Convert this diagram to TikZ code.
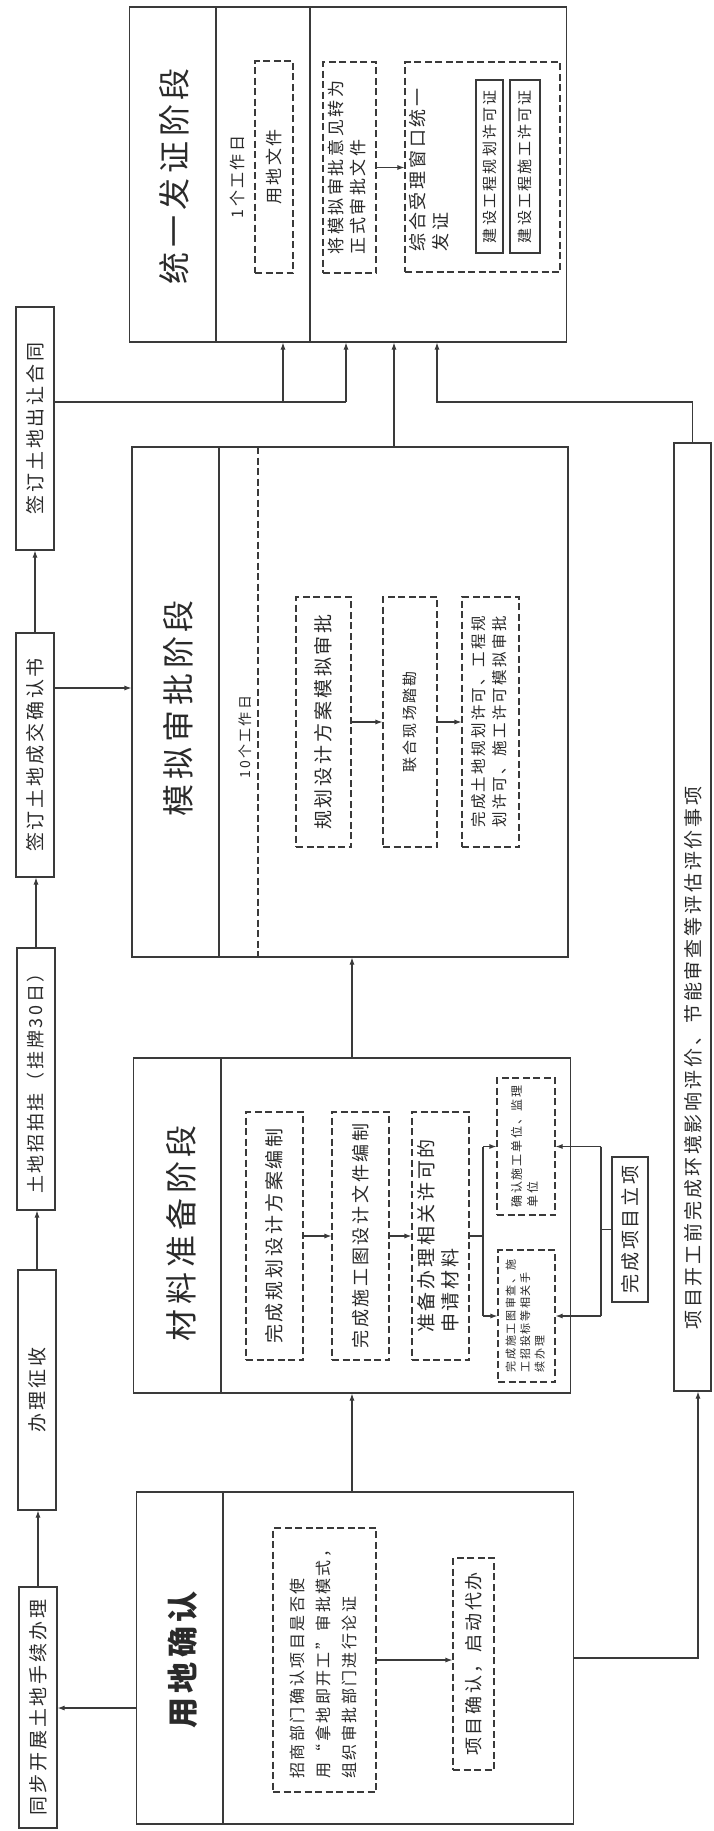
\documentclass[tikz,border=0pt]{standalone}
\usepackage{fontspec}
\setmainfont{Noto Sans CJK SC}[LetterSpace=15]
\usetikzlibrary{arrows.meta}
\newcommand{\R}[1]{\rotatebox{90}{#1}}
\newcommand{\ML}[1]{\rotatebox{90}{\begin{tabular}{@{}l@{}}#1\end{tabular}}}
\definecolor{ln}{HTML}{3A3A3A}
\definecolor{tx}{HTML}{2A2A2A}
\begin{document}
\begin{tikzpicture}[x=1pt,y=-1pt,
 line/.style={draw=ln,line width=1.1pt},
 arr/.style={line,-{Latex[length=7pt,width=5pt]}},
 sbox/.style={draw=ln,line width=1.1pt,rectangle,inner sep=0pt,text=tx},
 dbox/.style={sbox,dash pattern=on 7pt off 3.5pt},
 lbl/.style={inner sep=0pt,text=tx},
 fs/.style 2 args={font=\fontsize{#1}{#2}\selectfont}
]
\fill[white] (0,0) rectangle (714,1831);
\useasboundingbox (0,0) rectangle (714,1831);

% ---------- left chain ----------
\node[sbox,minimum width=38pt,minimum height=243pt,fs={19}{24}] (churang) at (35,428.5) {\R{签订土地出让合同}};
\node[sbox,minimum width=38pt,minimum height=244pt,fs={19}{24}] (chengjiao) at (35,755) {\R{签订土地成交确认书}};
\node[sbox,minimum width=38pt,minimum height=262pt,fs={18}{23}] (zhaopai) at (36,1079) {\R{土地招拍挂（挂牌30日）}};
\node[sbox,minimum width=38pt,minimum height=240pt,fs={19}{24}] (zhengshou) at (37,1390) {\R{办理征收}};
\node[sbox,minimum width=38pt,minimum height=241pt,fs={19}{24}] (tongbu) at (38,1707.5) {\R{同步开展土地手续办理}};

% ---------- stage boxes ----------
\node[sbox,minimum width=437pt,minimum height=335pt] (tongyi) at (348,174.5) {};
\node[sbox,minimum width=436pt,minimum height=510pt] (moni) at (350,702) {};
\node[sbox,minimum width=437pt,minimum height=335pt] (cailiao) at (352,1225.5) {};
\node[sbox,minimum width=437pt,minimum height=332pt] (yongdi) at (355,1658) {};

% dividers
\draw[line] (216,7) -- (216,342);
\draw[line] (310,7) -- (310,342);
\draw[line] (219,447) -- (219,957);
\draw[line,dash pattern=on 7pt off 3.5pt] (258,447) -- (258,957);
\draw[line] (221,1058) -- (221,1393);
\draw[line] (223,1492) -- (223,1824);

% titles
\node[lbl,fs={32}{38}] (t1) at (174,176) {\R{统一发证阶段}};
\node[lbl,fs={32}{38}] (t2) at (178,708) {\R{模拟审批阶段}};
\node[lbl,fs={32}{38}] (t3) at (181,1233) {\R{材料准备阶段}};
\node[lbl,font=\fontsize{31}{38}\selectfont\bfseries] (t4) at (183,1660) {\R{用地确认}};

% ---------- inside 统一发证 ----------
\node[lbl,fs={16}{20}] (d1) at (237,177) {\R{1个工作日}};
\node[dbox,minimum width=38pt,minimum height=212pt,fs={17}{21}] (ydwj) at (274,167) {\R{用地文件}};
\node[dbox,minimum width=53pt,minimum height=211pt,fs={17}{22}] (jiang) at (349.5,167.5) {\ML{将模拟审批意见转为\\正式审批文件}};
\node[dbox,minimum width=155pt,minimum height=210pt] (zonghe) at (482.5,167) {};
\node[lbl,fs={18}{23}] (zhtxt) at (431,170) {\ML{综合受理窗口统一\\发证}};
\node[sbox,minimum width=27pt,minimum height=173pt,fs={15}{19}] (cert1) at (489.5,166.5) {\R{建设工程规划许可证}};
\node[sbox,minimum width=30pt,minimum height=173pt,fs={15}{19}] (cert2) at (525,166.5) {\R{建设工程施工许可证}};
\draw[arr] (jiang.east) -- (jiang.east -| zonghe.west);

% ---------- inside 模拟审批 ----------
\node[lbl,fs={14}{18}] (d2) at (245,737) {\R{10个工作日}};
\node[dbox,minimum width=55pt,minimum height=250pt,fs={19}{24}] (guihua) at (323.5,722) {\R{规划设计方案模拟审批}};
\node[dbox,minimum width=54pt,minimum height=250pt,fs={15}{20}] (lianhe) at (410,722) {\R{联合现场踏勘}};
\node[dbox,minimum width=57pt,minimum height=250pt,fs={15.5}{21}] (wancheng) at (490.5,722) {\ML{完成土地规划许可、工程规\\划许可、施工许可模拟审批}};
\draw[arr] (guihua.east) -- (lianhe.west);
\draw[arr] (lianhe.east) -- (wancheng.west);

% ---------- inside 材料准备 ----------
\node[dbox,minimum width=57pt,minimum height=248pt,fs={19}{24}] (wc1) at (274.5,1236) {\R{完成规划设计方案编制}};
\node[dbox,minimum width=57pt,minimum height=248pt,fs={18}{23}] (wc2) at (360.5,1236) {\R{完成施工图设计文件编制}};
\node[dbox,minimum width=57pt,minimum height=248pt,fs={19}{24}] (zhunbei) at (440.5,1236) {\ML{准备办理相关许可的\\申请材料}};
\node[dbox,minimum width=58pt,minimum height=137pt,fs={12}{16}] (s1) at (526,1146.5) {\ML{确认施工单位、监理\\单位}};
\node[dbox,minimum width=57pt,minimum height=132pt,fs={11}{14.5}] (s2) at (526.5,1316) {\ML{完成施工图审查、施\\工招投标等相关手\\续办理}};
\node[sbox,minimum width=36pt,minimum height=145pt,fs={19}{24}] (lixiang) at (630,1229.5) {\R{完成项目立项}};
\draw[arr] (wc1.east) -- (wc2.west);
\draw[arr] (wc2.east) -- (zhunbei.west);
\coordinate (b1) at (483,1236);
\draw[line] (zhunbei.east) -- (b1);
\draw[line] (b1 |- s1.west) -- (b1 |- s2.west);
\draw[arr] (b1 |- s1.west) -- (s1.west);
\draw[arr] (b1 |- s2.west) -- (s2.west);
\coordinate (b2) at (601,1229.5);
\draw[line] (lixiang.west) -- (b2);
\draw[line] (b2 |- s1.east) -- (b2 |- s2.east);
\draw[arr] (b2 |- s1.east) -- (s1.east);
\draw[arr] (b2 |- s2.east) -- (s2.east);

% ---------- inside 用地确认 ----------
\node[dbox,minimum width=103pt,minimum height=264pt,fs={16}{26}] (zs) at (324.5,1660) {\ML{招商部门确认项目是否使\\用“拿地即开工”审批模式，\\组织审批部门进行论证}};
\node[dbox,minimum width=41pt,minimum height=212pt,fs={18}{23}] (qd) at (473.5,1664) {\R{项目确认，启动代办}};
\draw[arr] (zs.east) -- (zs.east -| qd.west);

% ---------- right box ----------
\node[sbox,minimum width=37pt,minimum height=948pt] (xiangmu) at (692.5,917) {};
\node[lbl,fs={19}{24}] (xmtxt) at (693,1058) {\R{项目开工前完成环境影响评价、节能审查等评估评价事项}};

% ---------- connectors ----------
\draw[arr] (tongbu.north) -- (tongbu.north |- zhengshou.south);
\draw[arr] (zhengshou.north) -- (zhengshou.north |- zhaopai.south);
\draw[arr] (zhaopai.north) -- (zhaopai.north |- chengjiao.south);
\draw[arr] (chengjiao.north) -- (chengjiao.north |- churang.south);
\coordinate (c5) at (60,688);
\draw[arr] (chengjiao.east |- c5) -- (moni.west |- c5);
\coordinate (j1) at (283,402);
\coordinate (j2) at (346,402);
\draw[line] (churang.east |- j1) -- (j2);
\draw[arr] (j1) -- (j1 |- tongyi.south);
\draw[arr] (j2) -- (j2 |- tongyi.south);
\coordinate (j3) at (394,400);
\draw[arr] (moni.north -| j3) -- (tongyi.south -| j3);
\coordinate (j4) at (437,402);
\draw[arr] (xiangmu.north) |- (j4) -- (j4 |- tongyi.south);
\coordinate (j5) at (352,1000);
\draw[arr] (cailiao.north -| j5) -- (moni.south -| j5);
\draw[arr] (yongdi.north -| j5) -- (cailiao.south -| j5);
\coordinate (j6) at (100,1708);
\draw[arr] (yongdi.west |- j6) -- (tongbu.east |- j6);
\coordinate (j7) at (698,1658);
\draw[arr] (yongdi.east |- j7) -| (xiangmu.south -| j7);
\end{tikzpicture}
\end{document}
